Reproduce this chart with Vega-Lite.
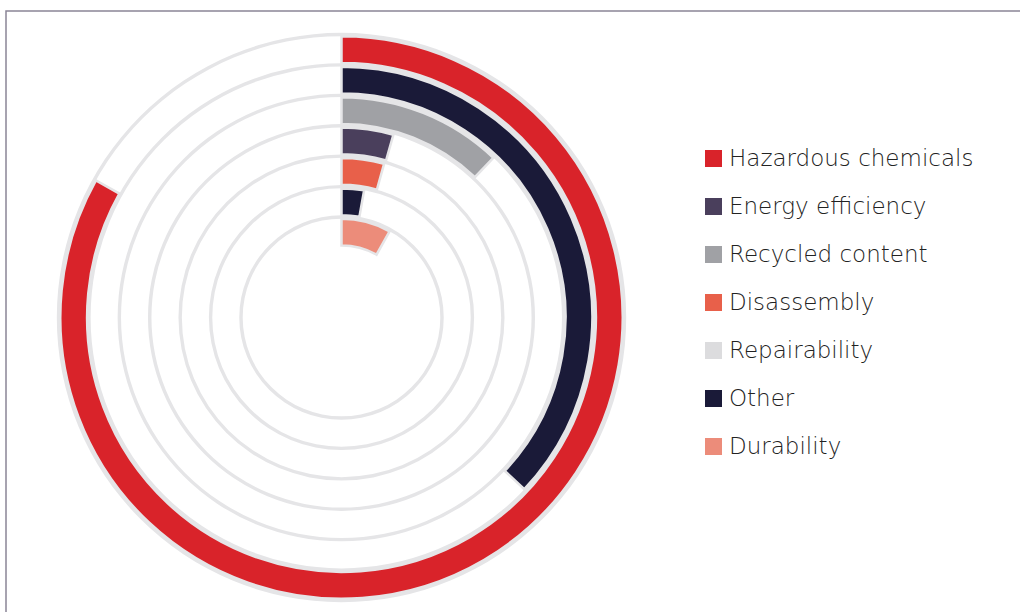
{
  "$schema": "https://vega.github.io/schema/vega-lite/v6.json",
  "width": 1016,
  "height": 613,
  "autosize": {"type": "none"},
  "padding": {"left": 6, "top": 11, "right": 0, "bottom": 0},
  "background": "#ffffff",
  "view": {"stroke": "#8b8597", "strokeWidth": 1.5, "fill": null},
  "data": {
    "values": [
      {"ring": 1, "category": "Hazardous chemicals", "share": 83.1},
      {"ring": 2, "category": "Other", "share": 37.0},
      {"ring": 3, "category": "Recycled content", "share": 12.1},
      {"ring": 4, "category": "Energy efficiency", "share": 4.4},
      {"ring": 5, "category": "Disassembly", "share": 4.3},
      {"ring": 6, "category": "Other", "share": 2.8},
      {"ring": 7, "category": "Durability", "share": 8.1}
    ]
  },
  "layer": [
    {
      "mark": {"type": "arc", "color": "#e5e5e7", "xOffset": -172.5, "radiusOffset": 1.7, "radius2Offset": -1.7},
      "encoding": {
        "theta": {"value": 6.2832},
        "theta2": {"value": 0},
        "radius": {"field": "ring", "type": "quantitative", "scale": {"type": "linear", "domain": [1, 7], "range": [283, 100.5], "zero": false}},
        "radius2": {"field": "ring"}
      }
    },
    {
      "mark": {"type": "arc", "xOffset": -172.5, "radiusOffset": -1.8, "radius2Offset": -28.6, "stroke": "#e5e5e7", "strokeWidth": 2.5},
      "encoding": {
        "theta": {"field": "share", "type": "quantitative", "stack": null, "scale": {"domain": [0, 100], "range": [0, 6.283185]}},
        "theta2": {"value": 0},
        "radius": {"field": "ring", "type": "quantitative", "scale": {"type": "linear", "domain": [1, 7], "range": [283, 100.5], "zero": false}},
        "radius2": {"field": "ring"},
        "color": {
          "field": "category",
          "type": "nominal",
          "scale": {
            "domain": ["Hazardous chemicals", "Energy efficiency", "Recycled content", "Disassembly", "Repairability", "Other", "Durability"],
            "range": ["#d9232a", "#4a3f5c", "#a0a1a5", "#e8604a", "#dcdcde", "#1a1a38", "#ec8c7a"]
          },
          "legend": {
            "title": null,
            "orient": "none",
            "legendX": 696,
            "legendY": 136,
            "padding": 0,
            "symbolType": "square",
            "symbolSize": 289,
            "symbolStrokeWidth": 0,
            "symbolOpacity": 1,
            "labelFont": "DejaVu Sans",
            "labelFontWeight": 300,
            "labelFontSize": 23,
            "labelColor": "#222222",
            "labelOffset": 4,
            "labelLimit": 400,
            "rowPadding": 24
          }
        }
      }
    }
  ]
}
